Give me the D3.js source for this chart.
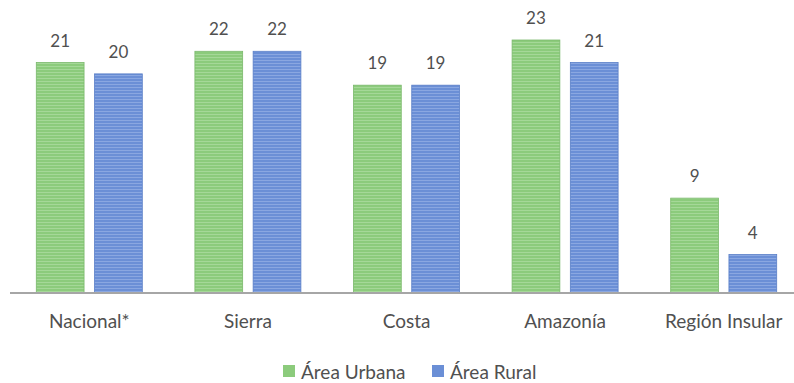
<!DOCTYPE html>
<html>
<head>
<meta charset="utf-8">
<script src="https://cdn.jsdelivr.net/npm/d3@7"></script>
<style>
  html, body { margin: 0; padding: 0; background: #fff; }
  svg { display: block; }
  text { font-family: Lato, "Open Sans", sans-serif; }
</style>
</head>
<body>
<svg id="chart" width="794" height="383"></svg>
<script>
const categories = ["Nacional*", "Sierra", "Costa", "Amazonía", "Región Insular"];
const seriesNames = ["Área Urbana", "Área Rural"];
const urbana = [21, 22, 19, 23, 9];
const rural = [20, 22, 19, 21, 4];
const seriesValues = [urbana, rural];

const colors = ["#8ccb7c", "#6b8fd6"];
const stripeColors = ["#b0dda4", "#97b1e6"];
const edgeColors = ["#7ab86b", "#5a7fc7"];

const svg = d3.select("#chart");
const baseY = 293;
const textColor = "#505050";

// striped fills for the bars
const defs = svg.append("defs");
seriesNames.forEach((s, i) => {
  const p = defs.append("pattern")
    .attr("id", "stripe" + i)
    .attr("patternUnits", "userSpaceOnUse")
    .attr("width", 8).attr("height", 3);
  p.append("rect").attr("width", 8).attr("height", 3).attr("fill", colors[i]);
  p.append("rect").attr("y", 0).attr("width", 8).attr("height", 1).attr("fill", stripeColors[i]).attr("opacity", 0.7);
});

const x0 = d3.scaleBand().domain(categories).range([10, 803]).padding(0);
const groupW = 106;
const x1 = d3.scaleBand().domain(seriesNames).range([0, groupW]).paddingInner(0.18);
const y = d3.scaleLinear().domain([0.6, 23]).range([baseY, 40]);

const rows = categories.map((c, ci) => ({
  cat: c,
  vals: seriesNames.map((s, si) => ({ s, si, v: seriesValues[si][ci] }))
}));

const groups = svg.append("g").selectAll("g.grp").data(rows).join("g")
  .attr("class", "grp")
  .attr("transform", d => `translate(${x0(d.cat) + (x0.bandwidth() - groupW) / 2},0)`);

groups.selectAll("rect").data(d => d.vals).join("rect")
  .attr("x", d => x1(d.s))
  .attr("y", d => y(d.v))
  .attr("width", x1.bandwidth())
  .attr("height", d => baseY - y(d.v))
  .attr("fill", d => `url(#stripe${d.si})`)
  .attr("stroke", d => edgeColors[d.si])
  .attr("stroke-width", 0.8);

groups.selectAll("text.val").data(d => d.vals).join("text")
  .attr("class", "val")
  .attr("x", d => x1(d.s) + x1.bandwidth() / 2)
  .attr("y", d => y(d.v) - 16)
  .attr("text-anchor", "middle")
  .attr("font-size", 17)
  .attr("fill", textColor)
  .text(d => d.v);

// baseline axis with category labels
const axis = d3.axisBottom(x0).tickSize(0).tickPadding(22);
const ax = svg.append("g").attr("transform", `translate(0,${baseY})`).call(axis);
ax.select(".domain").attr("stroke", "#a6a6a6").attr("stroke-width", 2).attr("d", "M10,0H794");
ax.selectAll("text").attr("font-size", 19).attr("fill", textColor).attr("font-family", "Lato, sans-serif");

// legend
const legend = svg.append("g").attr("transform", "translate(283,379)");
const legX = [0, 149];
seriesNames.forEach((s, i) => {
  const lg = legend.append("g").attr("transform", `translate(${legX[i]},0)`);
  lg.append("rect").attr("x", 0).attr("y", -14).attr("width", 12).attr("height", 12)
    .attr("fill", colors[i]);
  lg.append("text").attr("x", 18).attr("y", 0).attr("font-size", 19).attr("fill", textColor).text(s);
});
</script>
</body>
</html>
